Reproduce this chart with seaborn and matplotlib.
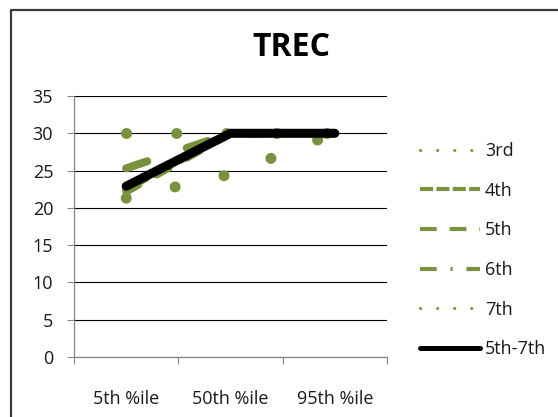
import matplotlib
matplotlib.use("Agg")
import matplotlib.pyplot as plt
from matplotlib.lines import Line2D
import seaborn as sns

# -------------------------
# data
# -------------------------
categories = ["5th %ile", "50th %ile", "95th %ile"]
series_names = ["3rd", "4th", "5th", "6th", "7th", "5th-7th"]
g3 = [30.0, 30.0, 30.0]
g4 = [22.2, 30.0, 30.0]
g5 = [25.3, 30.0, 30.0]
g6 = [22.6, 30.0, 30.0]
g7 = [21.3, 24.5, 30.0]
g5to7 = [22.9, 30.0, 30.0]
y_ticks = [0, 5, 10, 15, 20, 25, 30, 35]

green = "#77933C"
text_col = "#1a1a1a"

sns.set_style("white")
plt.rcParams["font.family"] = ["Open Sans", "DejaVu Sans"]
plt.rcParams["lines.scale_dashes"] = False

fig = plt.figure(figsize=(5.58, 4.17), dpi=100)
ax = fig.add_axes([74 / 558, 1 - 357 / 417, 313 / 558, 261 / 417])

# line styles in the plot (points, not scaled)
plot_styles = {
    "3rd": dict(color=green, linewidth=7.9, linestyle=(0, (0.1, 36)), dash_capstyle="round"),
    "4th": dict(color=green, linewidth=5.8, linestyle=(0, (10, 15)), dash_capstyle="round"),
    "5th": dict(color=green, linewidth=5.8, linestyle=(0, (16, 30)), dash_capstyle="round"),
    "6th": dict(color=green, linewidth=5.8, linestyle=(0, (16, 14, 0.1, 14)), dash_capstyle="round"),
    "7th": dict(color=green, linewidth=7.9, linestyle=(0, (0.1, 36)), dash_capstyle="round"),
    "5th-7th": dict(color="black", linewidth=6.5, linestyle="-", solid_capstyle="round"),
}
values = {"3rd": g3, "4th": g4, "5th": g5, "6th": g6, "7th": g7, "5th-7th": g5to7}

for name in series_names:
    sns.lineplot(x=categories, y=values[name], ax=ax, sort=False, legend=False,
                 zorder=3, **plot_styles[name])

# axes like the excel chart
ax.set_xlim(-0.5, 2.5)
ax.set_ylim(0, 35)
ax.set_yticks(y_ticks)
ax.set_xticks([-0.5, 0.5, 1.5, 2.5])
ax.set_xticklabels([])
ax.set_xticks([0, 1, 2], minor=True)
ax.set_xticklabels(categories, minor=True)
ax.tick_params(axis="x", which="major", length=5, color="#868686", direction="out", bottom=True)
ax.tick_params(axis="x", which="minor", length=0, pad=24, labelsize=13, labelcolor=text_col, bottom=True)
ax.tick_params(axis="y", length=5, color="#868686", direction="out", pad=10, labelsize=13,
               labelcolor=text_col, left=True)
ax.set_axisbelow(True)
ax.yaxis.grid(True, color="black", linewidth=0.8)
ax.xaxis.grid(False)
for side in ["top", "right"]:
    ax.spines[side].set_visible(False)
for side in ["left", "bottom"]:
    ax.spines[side].set_color("#868686")
    ax.spines[side].set_linewidth(0.9)
ax.set_xlabel("")
ax.set_ylabel("")

# title
fig.text(291 / 558, 1 - 48 / 417, "TREC", ha="center", va="center", fontsize=23, weight="bold",
         color="black")

# legend handles (excel draws them smaller than the plotted lines)
handles = [
    Line2D([], [], color=green, linewidth=2.2, linestyle=(0, (0.1, 12.2)), dash_capstyle="round"),
    Line2D([], [], color=green, linewidth=3.0, linestyle=(0, (9.4, 2.4))),
    Line2D([], [], color=green, linewidth=3.0, linestyle=(0, (12, 9.4))),
    Line2D([], [], color=green, linewidth=3.0, linestyle=(0, (12, 10, 1.5, 10))),
    Line2D([], [], color=green, linewidth=2.2, linestyle=(0, (0.1, 12.2)), dash_capstyle="round"),
    Line2D([], [], color="black", linewidth=3.6),
]
leg = fig.legend(handles, series_names, loc="upper left", bbox_to_anchor=(420 / 558, 1 - 142 / 417),
                 frameon=False, fontsize=13, handlelength=3.3, handletextpad=0.3,
                 labelspacing=1.2, borderpad=0, borderaxespad=0)
for t in leg.get_texts():
    t.set_color(text_col)

# chart area border (runs off the right and bottom edges)
fig.add_artist(Line2D([11 / 558, 11 / 558, 1.01], [-0.01, 1 - 9.5 / 417, 1 - 9.5 / 417],
                      transform=fig.transFigure, color="#3a3a3a", linewidth=1.6))

fig.savefig("out.png", dpi=100)
